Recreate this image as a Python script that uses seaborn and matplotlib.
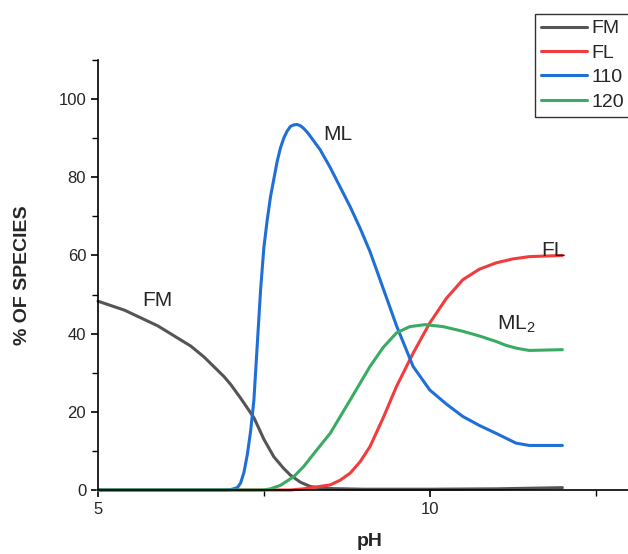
import pandas as pd
import seaborn as sns
import matplotlib.pyplot as plt
from matplotlib.ticker import MultipleLocator

# species distribution curves
ph_fm = [5.0, 5.4, 5.9, 6.4, 6.6, 6.9, 7.0, 7.15, 7.35, 7.5, 7.65, 7.8, 7.9, 8.05, 8.2, 8.4, 9.0, 10.0, 11.0, 12.0]
fm = [48.3, 46.0, 42.0, 36.8, 34.0, 29.0, 27.0, 23.5, 18.5, 13.0, 8.5, 5.5, 3.8, 2.0, 0.9, 0.4, 0.2, 0.2, 0.3, 0.6]

ph_fl = [5.0, 7.9, 8.1, 8.3, 8.5, 8.65, 8.8, 8.95, 9.1, 9.3, 9.5, 9.75, 10.0, 10.25, 10.5, 10.75, 11.0, 11.25, 11.5, 12.0]
fl = [0.0, 0.0, 0.3, 0.8, 1.3, 2.5, 4.3, 7.2, 11.1, 18.5, 26.5, 35.0, 42.7, 49.0, 53.8, 56.5, 58.1, 59.1, 59.7, 60.0]

ph_110 = [5.0, 6.9, 7.0, 7.1, 7.15, 7.2, 7.25, 7.3, 7.35, 7.4, 7.45, 7.5, 7.55, 7.6, 7.65, 7.7, 7.75, 7.8,
          7.85, 7.9, 7.95, 8.0, 8.05, 8.1, 8.15, 8.2, 8.35, 8.5, 8.65, 8.8, 8.95, 9.1, 9.3, 9.5, 9.75,
          10.0, 10.25, 10.5, 10.75, 11.0, 11.3, 11.5, 12.0]
s110 = [0.0, 0.0, 0.1, 0.6, 1.8, 4.5, 9.0, 15.0, 23.0, 37.0, 51.0, 62.0, 69.0, 75.0, 79.5, 84.0, 87.5, 90.0,
        91.8, 93.0, 93.4, 93.5, 93.2, 92.5, 91.6, 90.5, 87.0, 82.5, 77.5, 72.5, 67.0, 61.0, 51.5, 42.0, 31.6,
        25.6, 22.0, 18.8, 16.5, 14.5, 12.0, 11.4, 11.4]

ph_120 = [5.0, 7.5, 7.6, 7.75, 7.95, 8.1, 8.3, 8.5, 8.8, 9.1, 9.3, 9.5, 9.7, 9.93, 10.2, 10.5, 10.75, 11.0, 11.15, 11.3, 11.5, 12.0]
s120 = [0.0, 0.0, 0.3, 1.2, 3.4, 6.0, 10.3, 14.5, 23.0, 31.6, 36.5, 40.2, 41.8, 42.3, 41.8, 40.6, 39.4, 38.0, 37.0, 36.3, 35.7, 35.9]

names = ['FM', 'FL', '110', '120']
colors = ['#555555', '#f03c3c', '#1f6fd6', '#3aab63']

df = pd.concat([
    pd.DataFrame({'pH': ph_fm, 'pct': fm, 'species': 'FM'}),
    pd.DataFrame({'pH': ph_fl, 'pct': fl, 'species': 'FL'}),
    pd.DataFrame({'pH': ph_110, 'pct': s110, 'species': '110'}),
    pd.DataFrame({'pH': ph_120, 'pct': s120, 'species': '120'}),
])

sns.set_style('ticks')
plt.rcParams['font.family'] = ['Liberation Sans', 'DejaVu Sans']

fig = plt.figure(figsize=(6.28, 5.54), dpi=100)
ax = fig.add_axes([98 / 628, 64 / 554, 544 / 628, 430 / 554])

sns.lineplot(data=df, x='pH', y='pct', hue='species', hue_order=names,
             palette=colors, linewidth=2.2, estimator=None, legend=False, ax=ax)
for ln in ax.get_lines():
    ln.set_clip_on(False)
    ln.set_solid_joinstyle('round')

ax.set_xlim(5, 13.2)
ax.set_ylim(0, 110)
ax.xaxis.set_major_locator(MultipleLocator(5))
ax.xaxis.set_minor_locator(MultipleLocator(2.5))
ax.yaxis.set_major_locator(MultipleLocator(20))
ax.yaxis.set_minor_locator(MultipleLocator(10))
ax.set_yticks([0, 20, 40, 60, 80, 100])
ax.tick_params(which='major', direction='out', length=5, width=1.2, labelsize=12, color='black')
ax.tick_params(which='minor', direction='out', length=4, width=1.0, color='black')
for s in ['top', 'right']:
    ax.spines[s].set_visible(False)
for s in ['left', 'bottom']:
    ax.spines[s].set_linewidth(1.2)
    ax.spines[s].set_color('black')

ax.set_xlabel('pH', fontsize=14, fontweight='bold', labelpad=12)
ax.set_ylabel('% OF SPECIES', fontsize=14, fontweight='bold', labelpad=20)

ax.text(5.9, 48.5, 'FM', fontsize=15, ha='center', va='center')
ax.text(8.62, 91, 'ML', fontsize=15, ha='center', va='center')
ax.text(11.87, 61.3, 'FL', fontsize=15, ha='center', va='center')
ax.text(11.3, 42.3, r'$\mathregular{ML_2}$', fontsize=15, ha='center', va='center')

handles = ax.get_lines()[:4]
leg = fig.legend(handles, names, loc='upper left', bbox_to_anchor=(535 / 628, 1 - 14 / 554),
                 fontsize=14, frameon=True, fancybox=False, edgecolor='black',
                 handlelength=2.35, handletextpad=0.25, labelspacing=0.35, borderpad=0.3,
                 borderaxespad=0)
leg.get_frame().set_linewidth(1.0)

plt.savefig('out.png', dpi=100)
